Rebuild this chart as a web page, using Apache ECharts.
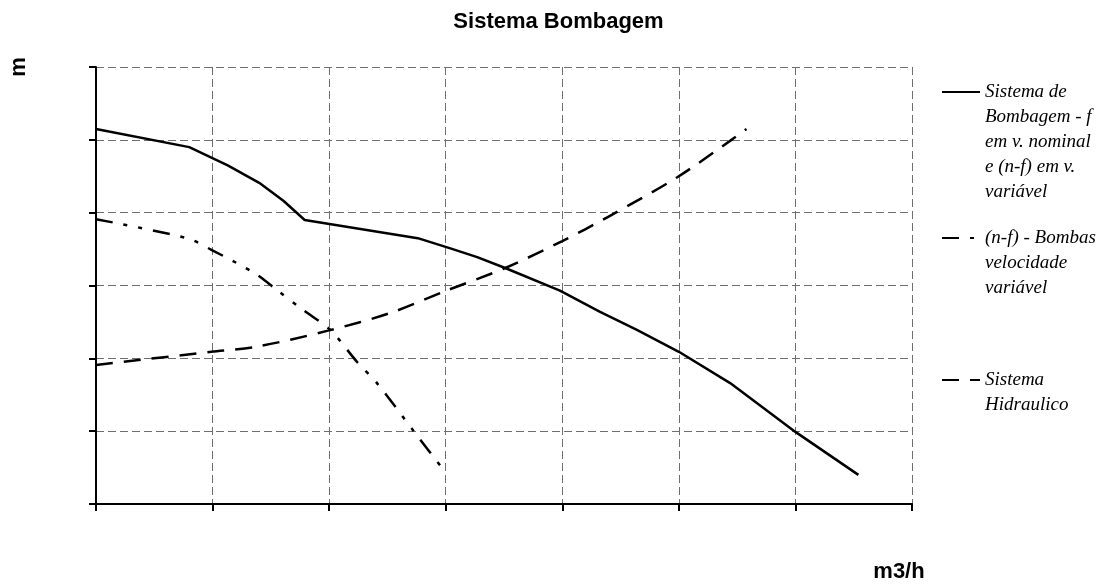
<!DOCTYPE html>
<html>
<head>
<meta charset="utf-8">
<script src="https://cdn.jsdelivr.net/npm/echarts@6/dist/echarts.min.js"></script>
<style>html,body{margin:0;padding:0;background:#fff}#c{width:1117px;height:585px}</style>
</head>
<body>
<div id="c"></div>
<script>
const titleText = 'Sistema Bombagem';
const xAxisName = 'm3/h';
const yAxisName = 'm';
const seriesNames = [
  'Sistema de\nBombagem - f\nem v. nominal\ne (n-f) em v.\nvariável',
  '(n-f) - Bombas\nvelocidade\nvariável',
  'Sistema\nHidraulico'
];
// Sistema de Bombagem (solid)
const pumpX = [0, 0.80, 1.13, 1.40, 1.61, 1.79, 2.76, 3.04, 3.27, 3.51, 3.98, 4.32, 4.64, 5.00, 5.44, 6.00, 6.54];
const pumpY = [5.15, 4.90, 4.65, 4.41, 4.16, 3.90, 3.65, 3.51, 3.39, 3.24, 2.93, 2.64, 2.39, 2.09, 1.66, 0.99, 0.40];
// (n-f) Bombas velocidade variável (dash-dot)
const varX = [0, 0.78, 0.99, 1.36, 1.55, 1.78, 2.01, 2.24, 2.41, 2.74, 3.00];
const varY = [3.91, 3.65, 3.49, 3.17, 2.94, 2.66, 2.39, 1.95, 1.66, 0.97, 0.43];
// Sistema Hidraulico (dashed)
const hydX = [0, 0.99, 1.38, 1.99, 2.52, 2.99, 3.51, 4.00, 4.39, 4.99, 5.46, 5.58];
const hydY = [1.91, 2.09, 2.16, 2.38, 2.62, 2.92, 3.24, 3.61, 3.94, 4.49, 5.01, 5.15];

const xMin = 0, xMax = 7, xStep = 1;
const yMin = 0, yMax = 6, yStep = 1;

const zip = (xs, ys) => xs.map((x, i) => [x, ys[i]]);

const chart = echarts.init(document.getElementById('c'), null, {renderer: 'canvas'});

const gridLine = {show: true, lineStyle: {color: '#6e6e6e', width: 1, type: [8, 4]}};
const legendText = {fontFamily: 'Liberation Serif', fontStyle: 'italic', fontSize: 19, lineHeight: 25, color: '#000'};
function mkLegend(name, pad, top) {
  return {
    data: [name], left: 941, top: top, orient: 'vertical', padding: 0,
    itemWidth: 38, itemHeight: 14, itemGap: 0, selectedMode: false,
    itemStyle: {opacity: 0},
    textStyle: legendText,
    formatter: n => pad + n
  };
}

chart.setOption({
  animation: false,
  backgroundColor: '#fff',
  title: {
    text: titleText, left: 'center', top: 6,
    textStyle: {fontFamily: 'Liberation Sans', fontWeight: 'bold', fontSize: 22, color: '#000'}
  },
  legend: [
    mkLegend(seriesNames[0], '\n\n\n\n', 92 - 112.5),
    mkLegend(seriesNames[1], '\n\n', 238 - 62.5),
    mkLegend(seriesNames[2], '\n', 380 - 37.5)
  ],
  grid: {left: 96, right: 205, top: 67, bottom: 81, containLabel: false},
  xAxis: {
    type: 'value', min: xMin, max: xMax, interval: xStep,
    name: xAxisName, nameLocation: 'end', nameGap: -13,
    nameTextStyle: {fontFamily: 'Liberation Sans', fontWeight: 'bold', fontSize: 22, color: '#000',
      align: 'center', verticalAlign: 'top', padding: [57, 0, 0, 0]},
    axisLine: {show: true, lineStyle: {color: '#000', width: 2}},
    axisTick: {show: true, length: 7, lineStyle: {color: '#000', width: 2}},
    axisLabel: {show: false},
    splitLine: gridLine
  },
  yAxis: {
    type: 'value', min: yMin, max: yMax, interval: yStep,
    name: yAxisName, nameLocation: 'end', nameGap: 0, nameRotate: 90,
    nameTextStyle: {fontFamily: 'Liberation Sans', fontWeight: 'bold', fontSize: 22, color: '#000',
      align: 'center', verticalAlign: 'bottom', padding: [0, 0, 66, 0]},
    axisLine: {show: true, lineStyle: {color: '#000', width: 2}},
    axisTick: {show: true, length: 7, lineStyle: {color: '#000', width: 2}},
    axisLabel: {show: false},
    splitLine: gridLine
  },
  series: [
    {name: seriesNames[0], type: 'line', data: zip(pumpX, pumpY), showSymbol: false, symbol: 'none',
     lineStyle: {color: '#000', width: 2.5, type: 'solid'}, itemStyle: {color: '#000'}, z: 5},
    {name: seriesNames[1], type: 'line', data: zip(varX, varY), showSymbol: false, symbol: 'none', smooth: 0.3,
     lineStyle: {color: '#000', width: 2.5, type: [17, 11, 4, 11, 4, 11]}, itemStyle: {color: '#000'}, z: 5},
    {name: seriesNames[2], type: 'line', data: zip(hydX, hydY), showSymbol: false, symbol: 'none', smooth: 0.3,
     lineStyle: {color: '#000', width: 2.5, type: [17, 11]}, itemStyle: {color: '#000'}, z: 5}
  ]
});
</script>
</body>
</html>
